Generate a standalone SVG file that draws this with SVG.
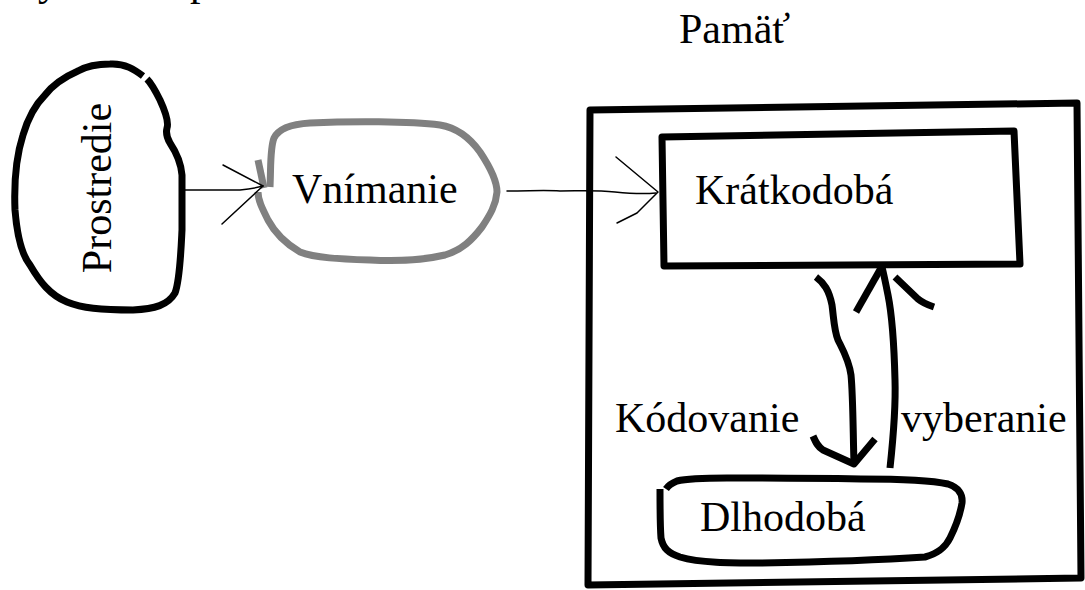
<svg xmlns="http://www.w3.org/2000/svg" width="1085" height="590" viewBox="0 0 1085 590">
  <defs>
    <style>
      .t { font-family: "Liberation Serif", "Times New Roman", serif; font-size: 42px; fill: #000; }
      .thick { fill: none; stroke: #000; stroke-width: 7; stroke-linecap: butt; stroke-linejoin: round; }
      .gray { fill: none; stroke: #808080; stroke-width: 7; stroke-linejoin: round; }
      .thin { fill: none; stroke: #000; stroke-width: 1.5; stroke-linecap: round; stroke-linejoin: round; }
    </style>
  </defs>
  <rect width="1085" height="590" fill="#fff"/>

  <!-- cut-off text at top edge -->
  <g id="cutoff-text">
    <text class="t" x="38" y="-5">y</text>
    <text class="t" x="190" y="-5">p</text>
  </g>

  <g id="title">
    <text class="t" x="679" y="43">Pamäť</text>
  </g>

  <g id="pamat-box">
    <path class="thick" d="M590,110 L1077,103 L1081,578 L588,585 Z"/>
  </g>

  <g id="prostredie">
    <path class="thick" d="M143,76 C135,70 125,63 110,64 C95,64 85,67 78,71 C62,78 52,86 45,95 C35,105 28,118 23,135 C15,160 14,185 15,210 C17,235 22,255 30,265 C40,282 50,295 67,302 C82,308 100,310 133,310 C155,309 168,305 175,293 C180,280 181,250 182,230 C182,210 182,190 182,175 C181,163 176,152 170,143 C167,138 166,132 167,128 C169,122 166,113 160,100 C155,90 151,83 147,79"/>
    <text class="t" transform="translate(111,188) rotate(-90)" text-anchor="middle">Prostredie</text>
  </g>

  <g id="vnimanie">
    <path class="gray" d="M258,160 L264,188"/>
    <path class="gray" d="M270,187 C271,165 270,148 274,138 C279,128 292,124 310,123 C350,121 410,121 440,125 C458,128 470,138 480,152 C490,167 497,180 497,192 C496,205 490,215 482,227 C472,240 462,250 445,255 C420,261 390,261 370,260 C340,259 315,258 300,252 C288,245 276,235 268,220 C262,208 258,200 258,192"/>
    <text class="t" x="292" y="203">Vnímanie</text>
  </g>

  <g id="kratkodoba">
    <path class="thick" d="M662,137 L1014,131 L1020,264 L664,266 Z"/>
    <text class="t" x="695" y="204">Krátkodobá</text>
  </g>

  <g id="dlhodoba">
    <path class="thick" d="M660,489 C660,505 660,525 661,538 C663,548 668,553 680,557 C700,563 730,563 761,563 C820,562 880,560 925,557 C940,553 946,546 950,538 C955,528 960,515 962,503 C963,494 958,487 948,484 C930,480 900,479 861,479 C800,478 760,478 727,478 C700,478 685,479 677,481 C672,483 668,486 666,489"/>
    <text class="t" x="700" y="531">Dlhodobá</text>
  </g>

  <g id="connectors">
    <!-- Prostredie -> Vnímanie -->
    <path class="thin" d="M182,190 L240,190 C250,189 256,188 263,186"/>
    <path class="thin" d="M223,165 L263,186 L222,224"/>
    <!-- Vnímanie -> Krátkodobá -->
    <path class="thin" d="M507,191 C530,191 545,190 560,191 C580,191 595,190 615,192 C635,194 645,194 656,193"/>
    <path class="thin" d="M616,157 L658,192 L637,213 L617,223"/>
    <!-- Kódovanie (down) -->
    <path class="thick" d="M816,277 C824,283 829,290 832,305 C834,320 834,330 838,340 C843,350 849,360 851,375 C853,395 853,430 854,464"/>
    <path class="thick" d="M813,436 C816,443 818,447 823,450 L854,464 L875,439"/>
    <!-- vyberanie (up) -->
    <path class="thick" d="M890,468 C893,440 896,410 895,380 C894,340 891,310 888,295 C886,285 884,275 882,267"/>
    <path class="thick" d="M856,312 L881,268"/>
    <path class="thick" d="M895,277 L918,299 C923,303 928,305 934,307"/>
  </g>

  <g id="labels">
    <text class="t" x="615" y="432">Kódovanie</text>
    <text class="t" x="901" y="432">vyberanie</text>
  </g>
</svg>
